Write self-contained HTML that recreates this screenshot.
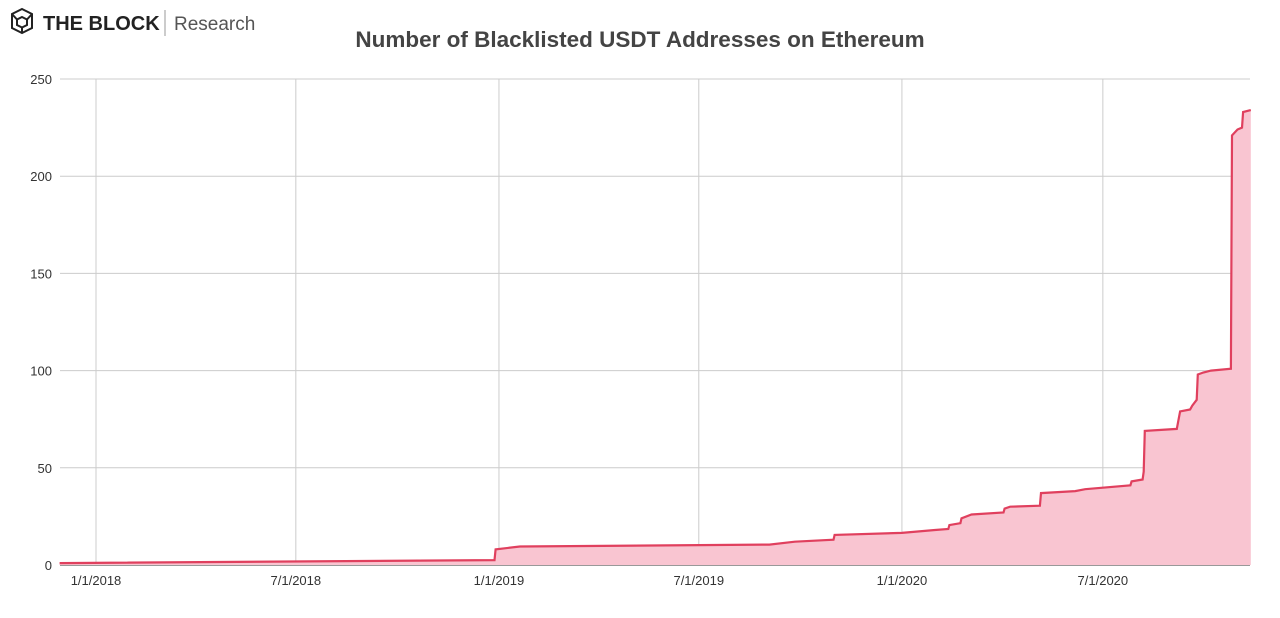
<!DOCTYPE html>
<html><head><meta charset="utf-8"><style>
body{margin:0;background:#fff;font-family:"Liberation Sans",sans-serif}
svg text{font-family:"Liberation Sans",sans-serif}
</style></head><body>
<svg id="chart" width="1280" height="613" viewBox="0 0 1280 613">
<g>
<g fill="none" stroke="#222" stroke-width="2"><polygon points="22,9 32,14 32,28 22,33 12,28 12,14"/><polygon points="22,17 27,19.5 27,25 22,27.5 17,25 17,19.5"/><line x1="12" y1="14" x2="17" y2="19.5"/><line x1="32" y1="14" x2="27" y2="19.5"/><line x1="22" y1="33" x2="22" y2="27.5"/></g>
<text x="43" y="30" font-size="20" font-weight="bold" fill="#222">THE BLOCK</text>
<line x1="165" y1="10" x2="165" y2="36" stroke="#999" stroke-width="1"/>
<text x="174" y="30" font-size="19" fill="#555">Research</text>
</g>
<text x="640" y="47" font-size="22.5" font-weight="bold" fill="#444" text-anchor="middle">Number of Blacklisted USDT Addresses on Ethereum</text>
<g id="grid"></g><g id="series"></g><g id="axes"></g>
</svg>
<script>
const dates=["2017-11-29","2018-12-28","2018-12-29","2019-01-20","2019-09-03","2019-09-26","2019-10-31","2019-11-01","2020-01-01","2020-01-31","2020-02-12","2020-02-13","2020-02-23","2020-02-24","2020-03-04","2020-04-02","2020-04-03","2020-04-08","2020-05-05","2020-05-06","2020-06-06","2020-06-15","2020-07-26","2020-07-27","2020-08-06","2020-08-07","2020-08-08","2020-09-06","2020-09-07","2020-09-09","2020-09-18","2020-09-20","2020-09-24","2020-09-25","2020-09-30","2020-10-07","2020-10-25","2020-10-26","2020-10-31","2020-11-04","2020-11-05","2020-11-12"];
const values=[1,2.5,8,9.5,10.5,12,13,15.5,16.5,18,18.5,20.5,21.5,24,26,27,29,30,30.5,37,38,39,41,43,44,48,69,70,73,79,80,82,85,98,99,100,101,221,224,225,233,234];
const yTicks=[0,50,100,150,200,250];
const xTickLabels=["1/1/2018","7/1/2018","1/1/2019","7/1/2019","1/1/2020","7/1/2020"];
const xTickDates=["2018-01-01","2018-07-01","2019-01-01","2019-07-01","2020-01-01","2020-07-01"];
const NS="http://www.w3.org/2000/svg";
const d0=Date.parse("2018-01-01");
const X=d=>96+(Date.parse(d)-d0)/86400000*1.104;
const Y=v=>565-v*486/250;
function mk(p,t,a){const e=document.createElementNS(NS,t);for(const k in a)e.setAttribute(k,a[k]);p.appendChild(e);return e;}
const g=document.getElementById('grid'),s=document.getElementById('series'),ax=document.getElementById('axes');
yTicks.forEach(v=>{
 const l=mk(g,'line',{x1:60,x2:1250,y1:Y(v),y2:Y(v),stroke:v===0?'#333':'#ccc','stroke-width':1});
 
 
 const t=mk(ax,'text',{x:52,y:Y(v)+5,'font-size':13,fill:'#333','text-anchor':'end'});
 t.textContent=v;
 
 
});
xTickDates.forEach((d,i)=>{
 const l=mk(g,'line',{x1:X(d),x2:X(d),y1:79,y2:565,stroke:'#ccc','stroke-width':1});
 
 
 const t=mk(ax,'text',{x:X(d),y:585,'font-size':13,fill:'#333','text-anchor':'middle'});
 t.textContent=xTickLabels[i];
 
 
});
let pts=dates.map((d,i)=>X(d).toFixed(1)+','+Y(values[i]).toFixed(1));
const area=mk(s,'polygon',{points:pts.join(' ')+' '+X(dates[dates.length-1]).toFixed(1)+','+Y(0)+' '+X(dates[0]).toFixed(1)+','+Y(0),fill:'#f9c5d1'});


const line=mk(s,'polyline',{points:pts.join(' '),fill:'none',stroke:'#e0405e','stroke-width':2.2});


</script>
</body></html>
